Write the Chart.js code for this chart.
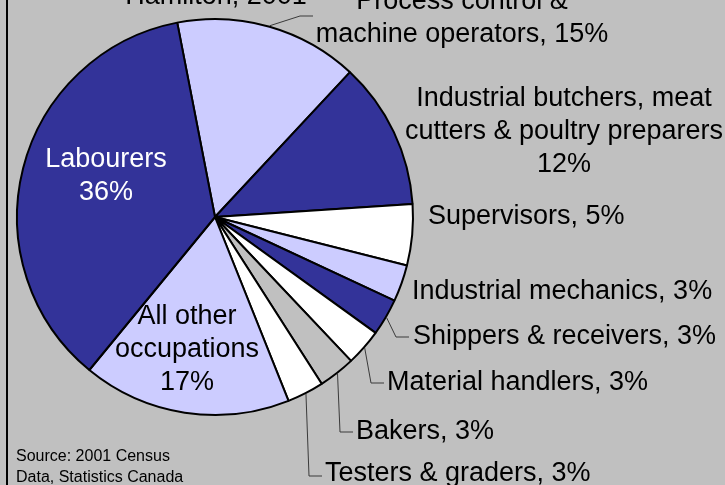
<!DOCTYPE html>
<html>
<head>
<meta charset="utf-8">
<script src="https://cdn.jsdelivr.net/npm/chart.js@4"></script>
<style>
  body { margin: 0; background: #c0c0c0; }
  #wrap { width: 725px; height: 485px; position: relative; }
</style>
</head>
<body>
<div id="wrap"><canvas id="graficoOcupacoes"></canvas></div>
<script>
// ordem no sentido horario a partir do topo
const categorias = ['Process control & machine operators', 'Industrial butchers, meat cutters & poultry preparers',
    'Supervisors', 'Industrial mechanics', 'Shippers & receivers', 'Material handlers', 'Bakers',
    'Testers & graders', 'All other occupations', 'Labourers']
const percentuais = [15, 12, 5, 3, 3, 3, 3, 3, 17, 36]
const cores = ['#CCCCFF', '#333399', '#FFFFFF', '#CCCCFF', '#333399', '#FFFFFF', '#C0C0C0', '#FFFFFF', '#CCCCFF', '#333399']
const titulo = 'Hamilton, 2001'
const fonte = ['Source: 2001 Census', 'Data, Statistics Canada']

const FONT = '"Liberation Sans", Arial, sans-serif'

// posicao dos rotulos (layout), na mesma ordem dos dados
const rotulos = [
    { lines: ['Process control &', 'machine operators, ' + percentuais[0] + '%'], x: 462, y: 9, align: 'center', leader: [313, 16] },
    { lines: ['Industrial butchers, meat', 'cutters & poultry preparers', percentuais[1] + '%'], x: 564, y: 106, align: 'center' },
    { lines: ['Supervisors, ' + percentuais[2] + '%'], x: 428, y: 224, align: 'left' },
    { lines: ['Industrial mechanics, ' + percentuais[3] + '%'], x: 412, y: 299, align: 'left' },
    { lines: ['Shippers & receivers, ' + percentuais[4] + '%'], x: 413, y: 344, align: 'left', leader: [409, 337] },
    { lines: ['Material handlers, ' + percentuais[5] + '%'], x: 387, y: 390, align: 'left', leader: [384, 383] },
    { lines: ['Bakers, ' + percentuais[6] + '%'], x: 356, y: 439, align: 'left', leader: [353, 432] },
    { lines: ['Testers & graders, ' + percentuais[7] + '%'], x: 325, y: 481, align: 'left', leader: [322, 476] },
    { lines: ['All other', 'occupations', percentuais[8] + '%'], x: 187, y: 324, align: 'center' },
    { lines: ['Labourers', percentuais[9] + '%'], x: 106, y: 167, align: 'center', color: '#FFFFFF' }
]

const rotulosPlugin = {
    id: 'rotulosPlugin',
    beforeDraw(chart) {
        const ctx = chart.ctx
        ctx.save()
        ctx.fillStyle = '#C0C0C0'
        ctx.fillRect(0, 0, chart.width, chart.height)
        ctx.fillStyle = '#000000'
        ctx.fillRect(6, 0, 2, chart.height)
        ctx.restore()
    },
    afterDatasetsDraw(chart) {
        const ctx = chart.ctx
        const arcs = chart.getDatasetMeta(0).data
        ctx.save()

        // linhas de chamada
        ctx.strokeStyle = '#3a3a3a'
        ctx.lineWidth = 1
        rotulos.forEach((r, i) => {
            if (!r.leader) return
            const arc = arcs[i]
            const mid = (arc.startAngle + arc.endAngle) / 2
            const raio = arc.outerRadius + 1
            const sx = arc.x + Math.cos(mid) * raio
            const sy = arc.y + Math.sin(mid) * raio
            ctx.beginPath()
            ctx.moveTo(sx, sy)
            ctx.lineTo(r.leader[0] - 13, r.leader[1])
            ctx.lineTo(r.leader[0], r.leader[1])
            ctx.stroke()
        })

        ctx.font = `27px ${FONT}`
        ctx.textBaseline = 'alphabetic'
        rotulos.forEach(r => {
            ctx.fillStyle = r.color || '#000000'
            ctx.textAlign = r.align
            r.lines.forEach((linha, k) => ctx.fillText(linha, r.x, r.y + k * 33))
        })

        ctx.fillStyle = '#000000'
        ctx.textAlign = 'center'
        ctx.fillText(titulo, 216, 4)

        ctx.font = `16px ${FONT}`
        ctx.textAlign = 'left'
        fonte.forEach((linha, k) => ctx.fillText(linha, 16, 461 + k * 21))
        ctx.restore()
    }
}

window.graficoOcupacoes = new Chart(document.getElementById('graficoOcupacoes'), {
    type: 'pie',
    data: {
        labels: categorias,
        datasets: [{
            data: percentuais,
            backgroundColor: cores,
            borderColor: '#000000',
            borderWidth: 2
        }]
    },
    options: {
        responsive: true,
        maintainAspectRatio: false,
        animation: false,
        rotation: -11,
        radius: 198,
        layout: {
            padding: { left: 0, right: 295, top: 0, bottom: 51 }
        },
        plugins: {
            legend: { display: false },
            tooltip: { enabled: false },
            title: { display: false }
        }
    },
    plugins: [rotulosPlugin]
})
</script>
</body>
</html>
